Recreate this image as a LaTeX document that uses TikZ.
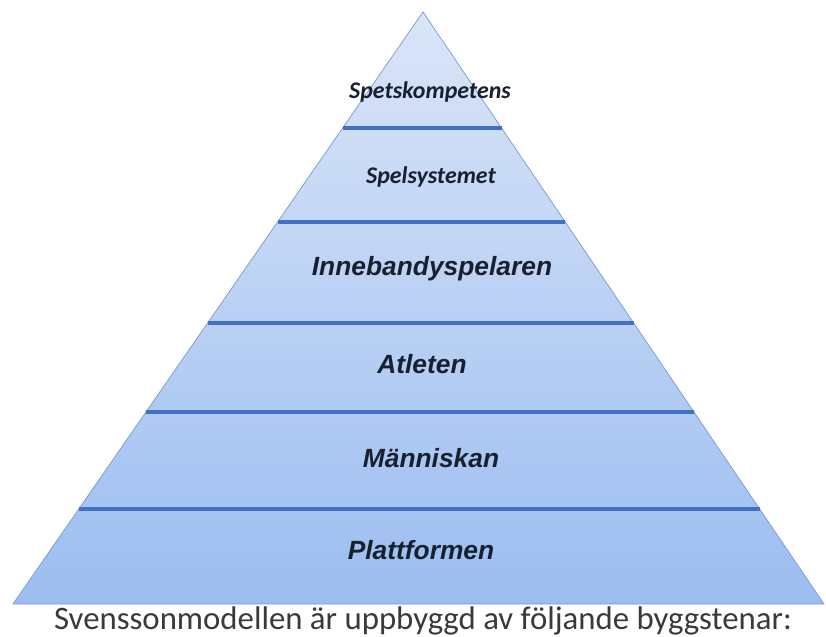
\documentclass[tikz,border=0pt]{standalone}
\usepackage{fontspec}
\usepackage{tikz}
\usetikzlibrary{calc}
\newfontfamily\arialfont{Liberation Sans}
\newfontfamily\calfont{Carlito}
\definecolor{pyrtop}{HTML}{DAE5F8}
\definecolor{pyrbot}{HTML}{9BBDF0}
\definecolor{sepline}{HTML}{4470C4}
\definecolor{pyredge}{HTML}{7898D0}
\definecolor{labeltext}{HTML}{182030}
\definecolor{captext}{HTML}{3A3A3A}

\begin{document}
\begin{tikzpicture}[x=0.03cm,y=-0.03cm,
  layer/.style={font=\arialfont\bfseries\itshape\fontsize{22.5}{24}\selectfont, text=labeltext, anchor=base, inner sep=0pt},
  toplayer/.style={font=\calfont\bfseries\itshape\fontsize{20.4}{22}\selectfont, text=labeltext, anchor=base, inner sep=0pt},
  sep/.style={draw=sepline, line width=3.2pt}]

  \useasboundingbox (0,0) rectangle (826,637);
  \coordinate (apex) at (423,12);
  \coordinate (bl) at (13,604);
  \coordinate (br) at (824,604);
  \shade[top color=pyrtop, bottom color=pyrbot] (apex) -- (bl) -- (br) -- cycle;
  \draw[pyredge, line width=0.6pt] (apex) -- (bl) -- (br) -- cycle;
  % separators between the layers
  \foreach \n/\y in {1/128, 2/222, 3/323, 4/412, 5/509}
   {
    \coordinate (l\n) at ($(apex)!{(\y-12)/592}!(bl)$);
    \coordinate (r\n) at ($(apex)!{(\y-12)/592}!(br)$);
    \draw[sep] (l\n) -- (r\n);
   }
  \node[toplayer] (spets) at (430,98) {Spetskompetens};
  \node[toplayer] (spelsys) at (431,183) {Spelsystemet};
  \node[layer] (inneb) at (432,275) {Innebandyspelaren};
  \node[layer] (atlet) at (422,373) {Atleten};
  \node[layer] (manni) at (431,467) {Människan};
  \node[layer] (plattf) at (421,559) {Plattformen};
  \node[anchor=base, inner sep=0pt, font=\calfont\fontsize{28}{30}\selectfont, text=captext] (caption) at (423,629) {Svenssonmodellen är uppbyggd av följande byggstenar:};
\end{tikzpicture}
\end{document}
